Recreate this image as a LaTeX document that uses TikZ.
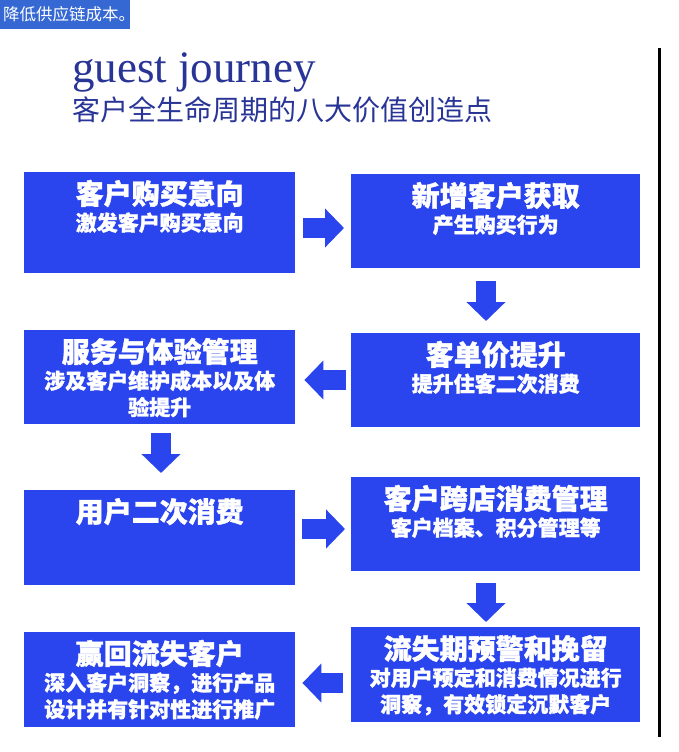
\documentclass[tikz,border=0pt]{standalone}
\usepackage{fontspec}
\setmainfont{Liberation Serif}
\newfontfamily\cjk[BoldFeatures={FakeBold=1.3}]{Noto Sans CJK SC}
\usetikzlibrary{arrows.meta}

\definecolor{boxblue}{RGB}{42,68,238}
\definecolor{inkblue}{RGB}{40,52,150}
\definecolor{tagblue}{RGB}{53,104,210}

% text of one stage: width, height, heading, details
\newcommand{\stagetext}[4]{%
  \parbox[t][#2][t]{#1}{\centering\cjk\bfseries\lineskiplimit=-20pt\relax
    \fontsize{28pt}{26.5pt}\selectfont\rule{0pt}{32pt}#3\\
    \fontsize{21pt}{26.5pt}\selectfont #4\par}}

\begin{document}
\begin{tikzpicture}[x=1pt,y=-1pt,
    stage/.style={fill=boxblue,text=white,inner sep=0pt,anchor=north west},
    flow/.style={draw=boxblue,line width=20pt,-{Triangle[length=19pt,width=38pt]}}]
  \fill[white] (0,0) rectangle (678,752);
  \useasboundingbox (0,0) rectangle (678,752);

  \node[fill=tagblue,text=white,anchor=north west,inner sep=0pt,
        minimum width=130pt,minimum height=29pt,
        font=\cjk\fontsize{16.5pt}{17pt}\selectfont] (tag) at (0,0)
        {\hspace{3pt}\makebox[127pt][l]{降低供应链成本。}};
  \node[anchor=base west,inner sep=0pt,text=inkblue,
        font=\fontsize{45pt}{45pt}\selectfont] (title) at (72,82) {guest journey};
  \node[anchor=base west,inner sep=0pt,text=inkblue,
        font=\cjk\fontsize{28pt}{28pt}\selectfont] (subtitle) at (72,120) {客户全生命周期的八大价值创造点};
  \draw[line width=3pt] (659,48) -- (659,737);

  \node[stage] (buy)     at (24,172)  {\stagetext{271pt}{101pt}{客户购买意向}{激发客户购买意向}};
  \node[stage] (acquire) at (351,174) {\stagetext{289pt}{94pt}{新增客户获取}{产生购买行为}};
  \node[stage] (service) at (24,330)  {\stagetext{271pt}{94pt}{服务与体验管理}{涉及客户维护成本以及体\\验提升}};
  \node[stage] (spend)   at (351,333) {\stagetext{289pt}{94pt}{客单价提升}{提升住客二次消费}};
  \node[stage] (repeat)  at (24,490)  {\stagetext{271pt}{95pt}{用户二次消费}{}};
  \node[stage] (cross)   at (351,477) {\stagetext{289pt}{94pt}{客户跨店消费管理}{客户档案、积分管理等}};
  \node[stage] (winback) at (24,632)  {\stagetext{271pt}{95pt}{赢回流失客户}{深入客户洞察，进行产品\\设计并有针对性进行推广}};
  \node[stage] (retain)  at (351,627) {\stagetext{289pt}{95pt}{流失期预警和挽留}{对用户预定和消费情况进行\\洞察，有效锁定沉默客户}};

  \draw[flow,shorten <=8pt,shorten >=7pt]   (buy.east |- 0,228) -- (acquire.west |- 0,228);
  \draw[flow,shorten <=13pt,shorten >=12pt] (acquire.south -| 486,0) -- (spend.north -| 486,0);
  \draw[flow,shorten <=5pt,shorten >=9pt]   (spend.west |- 0,380) -- (service.east |- 0,380);
  \draw[flow,shorten <=9pt,shorten >=17pt]  (service.south -| 161,0) -- (repeat.north -| 161,0);
  \draw[flow,shorten <=7pt,shorten >=6pt]   (repeat.east |- 0,529) -- (cross.west |- 0,529);
  \draw[flow,shorten <=12pt,shorten >=5pt]  (cross.south -| 486,0) -- (retain.north -| 486,0);
  \draw[flow,shorten <=8pt,shorten >=7pt]   (retain.west |- 0,683) -- (winback.east |- 0,683);
\end{tikzpicture}
\end{document}
